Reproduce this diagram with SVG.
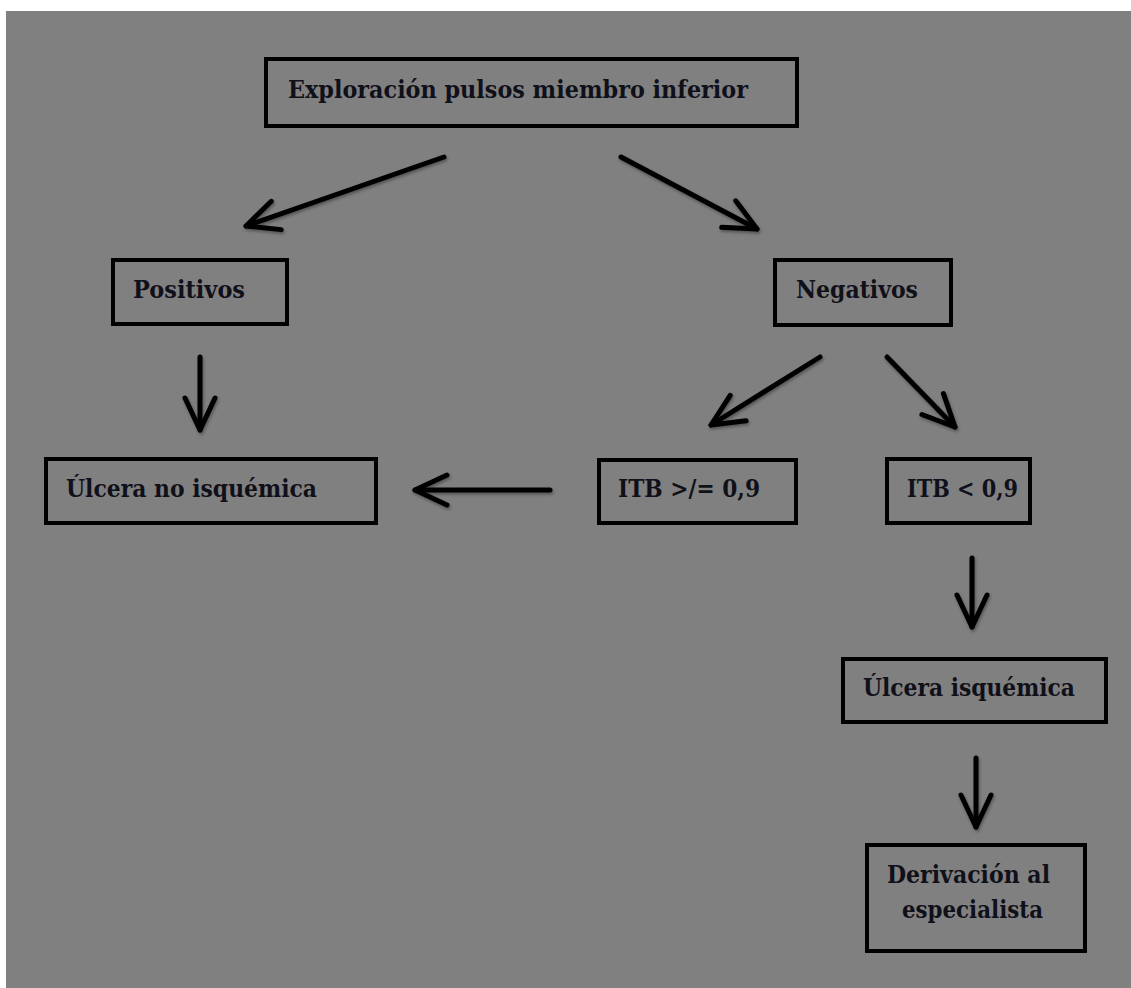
<svg xmlns="http://www.w3.org/2000/svg" width="1131" height="988" viewBox="0 0 1131 988">
<style>
.box{fill:none;stroke:#000;stroke-width:4}
.lbl{font-family:"DejaVu Serif","Liberation Serif",serif;font-weight:bold;font-size:25px;fill:#10101a}
.conn{fill:none;stroke:#050505;stroke-width:5;stroke-linecap:round}
</style>
<defs>
<filter id="sh" x="-20%" y="-20%" width="140%" height="140%">
<feDropShadow dx="1" dy="2" stdDeviation="1.5" flood-color="#000" flood-opacity="0.35"/>
</filter>
<marker id="arr" markerUnits="userSpaceOnUse" markerWidth="40" markerHeight="40" refX="0" refY="0" orient="auto" overflow="visible">
<path d="M -32 -15 L 0 0 L -32 15" fill="none" stroke="#050505" stroke-width="5" stroke-linecap="round" stroke-linejoin="round"/>
</marker>
</defs>
<rect x="0" y="0" width="1131" height="988" fill="#ffffff"/>
<rect x="6" y="11" width="1125" height="977" fill="#808080"/>

<g id="connectors" filter="url(#sh)">
<line class="conn" x1="444" y1="157" x2="246" y2="226" marker-end="url(#arr)"/>
<line class="conn" x1="621" y1="157" x2="757" y2="229" marker-end="url(#arr)"/>
<line class="conn" x1="200" y1="357" x2="200" y2="430" marker-end="url(#arr)"/>
<line class="conn" x1="820" y1="357" x2="711" y2="425" marker-end="url(#arr)"/>
<line class="conn" x1="887" y1="357" x2="955" y2="427" marker-end="url(#arr)"/>
<line class="conn" x1="550" y1="490" x2="415" y2="490" marker-end="url(#arr)"/>
<line class="conn" x1="972" y1="558" x2="972" y2="627" marker-end="url(#arr)"/>
<line class="conn" x1="976" y1="758" x2="976" y2="827" marker-end="url(#arr)"/>
</g>

<g id="n-exploracion">
<rect class="box" x="266" y="59" width="531" height="67"/>
<text class="lbl" x="288" y="98" textLength="460" lengthAdjust="spacingAndGlyphs">Exploración pulsos miembro inferior</text>
</g>
<g id="n-positivos">
<rect class="box" x="113" y="260" width="174" height="64"/>
<text class="lbl" x="133" y="298" textLength="112" lengthAdjust="spacingAndGlyphs">Positivos</text>
</g>
<g id="n-negativos">
<rect class="box" x="775" y="260" width="176" height="65"/>
<text class="lbl" x="796" y="298" textLength="122" lengthAdjust="spacingAndGlyphs">Negativos</text>
</g>
<g id="n-ulcera-no">
<rect class="box" x="46" y="459" width="330" height="64"/>
<text class="lbl" x="66" y="497" textLength="251" lengthAdjust="spacingAndGlyphs">Úlcera no isquémica</text>
</g>
<g id="n-itb-ge">
<rect class="box" x="599" y="460" width="197" height="63"/>
<text class="lbl" x="618" y="497" textLength="142" lengthAdjust="spacingAndGlyphs">ITB &gt;/= 0,9</text>
</g>
<g id="n-itb-lt">
<rect class="box" x="887" y="459" width="143" height="64"/>
<text class="lbl" x="907" y="497" textLength="111" lengthAdjust="spacingAndGlyphs">ITB &lt; 0,9</text>
</g>
<g id="n-ulcera-isq">
<rect class="box" x="843" y="659" width="263" height="63"/>
<text class="lbl" x="863" y="696" textLength="212" lengthAdjust="spacingAndGlyphs">Úlcera isquémica</text>
</g>
<g id="n-derivacion">
<rect class="box" x="867" y="845" width="218" height="106"/>
<text class="lbl" x="887" y="883" textLength="163" lengthAdjust="spacingAndGlyphs">Derivación al</text>
<text class="lbl" x="902" y="918" textLength="141" lengthAdjust="spacingAndGlyphs">especialista</text>
</g>
</svg>
